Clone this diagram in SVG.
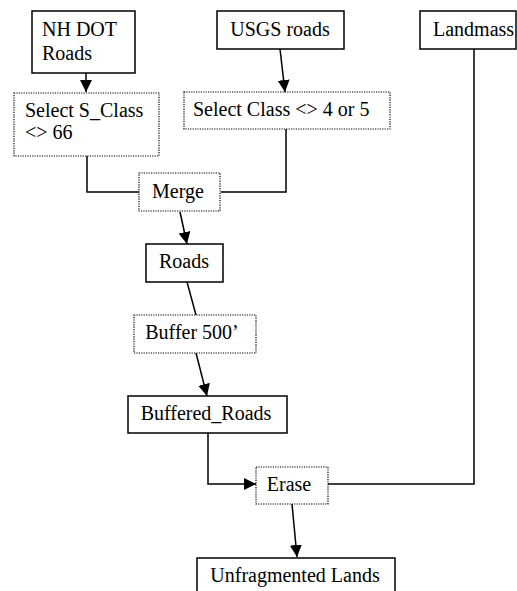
<svg xmlns="http://www.w3.org/2000/svg" width="517" height="591" viewBox="0 0 517 591">
<style>
.solid{fill:#fff;stroke:#000;stroke-width:1.5}
.dot{fill:#fff;stroke:#000;stroke-width:1.2;stroke-dasharray:1.2 1.2}
.t{font-family:"Liberation Serif","Times New Roman",serif;font-size:20px;fill:#000}
.m{text-anchor:middle}
.c{fill:none;stroke:#000;stroke-width:1.5}
</style>
<defs>
<marker id="ah" viewBox="0 0 12 12" refX="12" refY="6" markerWidth="12" markerHeight="12" markerUnits="userSpaceOnUse" orient="auto">
<path d="M0,0 L12,6 L0,12 Z" fill="#000"/>
</marker>
</defs>
<rect width="517" height="591" fill="#fff"/>
<g id="connectors">
<path class="c" d="M86,73 L86,92" marker-end="url(#ah)"/>
<path class="c" d="M280,49 L285,92" marker-end="url(#ah)"/>
<path class="c" d="M87,156 L87,192 L140,192"/>
<path class="c" d="M286,129 L286,192 L221,192"/>
<path class="c" d="M180,212 L187,244" marker-end="url(#ah)"/>
<path class="c" d="M187,282 L196,315"/>
<path class="c" d="M196,353 L207,396" marker-end="url(#ah)"/>
<path class="c" d="M208,433 L208,484 L256,484" marker-end="url(#ah)"/>
<path class="c" d="M474,49 L474,484 L328,484"/>
<path class="c" d="M292,504 L297,557" marker-end="url(#ah)"/>
</g>
<g id="nhdot"><rect class="solid" x="32" y="11" width="103" height="62"/><text class="t" x="42" y="36">NH DOT</text><text class="t" x="42" y="60">Roads</text></g>
<g id="usgs"><rect class="solid" x="217" y="11" width="127" height="38"/><text class="t m" x="280" y="36">USGS roads</text></g>
<g id="landmass"><rect class="solid" x="420" y="11" width="96" height="38"/><text class="t" x="433" y="36">Landmass</text></g>
<g id="selectS"><rect class="dot" x="14" y="93" width="145" height="63"/><text class="t" x="25" y="117">Select S_Class</text><text class="t" x="25" y="139">&lt;&gt; 66</text></g>
<g id="selectC"><rect class="dot" x="184" y="92" width="206" height="37"/><text class="t" x="193" y="116">Select Class &lt;&gt; 4 or 5</text></g>
<g id="merge"><rect class="dot" x="139" y="173" width="81" height="38"/><text class="t m" x="178" y="198">Merge</text></g>
<g id="roads"><rect class="solid" x="146" y="244" width="77" height="38"/><text class="t m" x="184" y="268">Roads</text></g>
<g id="buffer"><rect class="dot" x="134" y="315" width="122" height="38"/><text class="t m" x="192" y="339">Buffer 500’</text></g>
<g id="buffered"><rect class="solid" x="128" y="396" width="159" height="37"/><text class="t m" x="206" y="420">Buffered_Roads</text></g>
<g id="erase"><rect class="dot" x="256" y="467" width="72" height="37"/><text class="t m" x="289" y="491">Erase</text></g>
<g id="unfrag"><rect class="solid" x="197" y="558" width="198" height="40"/><text class="t m" x="295" y="582">Unfragmented Lands</text></g>
</svg>
